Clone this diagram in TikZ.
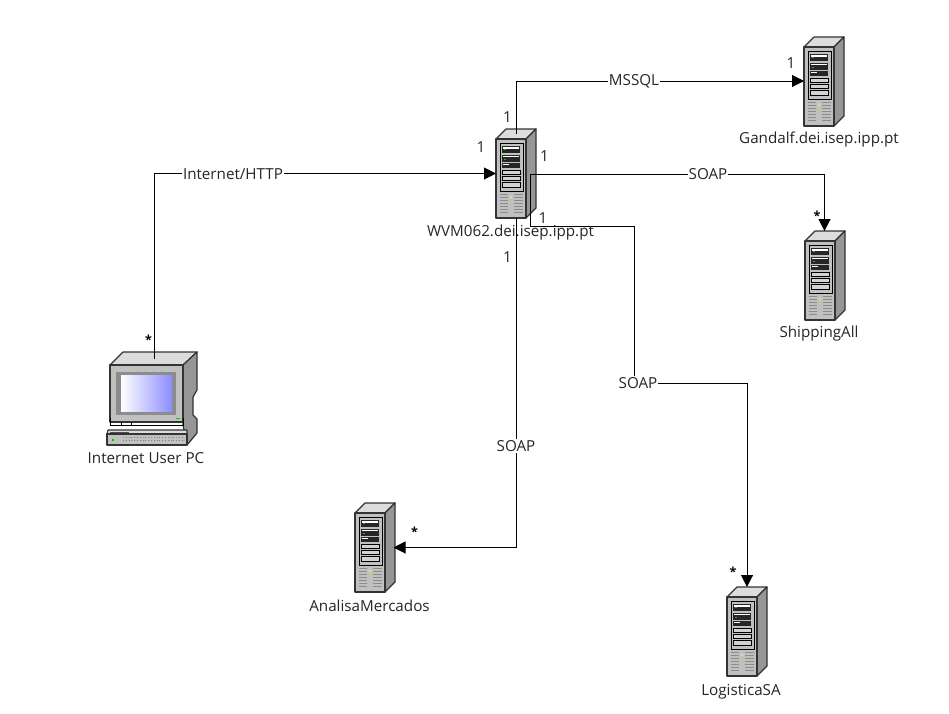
\documentclass[tikz,border=0pt]{standalone}
\usepackage{fontspec}
\setmainfont{Open Sans}
\usepackage{tikz}
\usetikzlibrary{arrows.meta,positioning}

\definecolor{caseface}{HTML}{C0C0C0}
\definecolor{casetop}{HTML}{DCDCDC}
\definecolor{caseside}{HTML}{969696}
\definecolor{bayface}{HTML}{D2D2D2}

\tikzset{
  hostbox/.style={minimum width=40pt,minimum height=89pt,inner sep=0pt,outer sep=0pt},
  pcbox/.style={minimum width=90pt,minimum height=93pt,inner sep=0pt,outer sep=0pt},
  hostlabel/.style={font=\fontsize{15.2pt}{18pt}\selectfont,inner sep=0pt,text=black!85},
  linklabel/.style={font=\fontsize{15.2pt}{18pt}\selectfont,inner sep=1pt,fill=white,text=black!85},
  endlabel/.style={font=\fontsize{15.2pt}{18pt}\selectfont,inner sep=0pt,text=black!85},
  starlabel/.style={font=\bfseries\fontsize{12.5pt}{14pt}\selectfont,inner sep=0pt,text=black},
  link/.style={draw=black,line width=1pt},
  pics/serverpic/.style={code={
    \filldraw[draw=black!80,line width=1.2pt,line join=round,fill=casetop] (0,10) -- (10,0) -- (40,0) -- (30,10) -- cycle;
    \filldraw[draw=black!80,line width=1.2pt,line join=round,fill=caseside] (30,10) -- (40,0) -- (40,79) -- (30,89) -- cycle;
    \filldraw[draw=black!80,line width=1.2pt,line join=round,fill=caseface] (0,10) -- (30,10) -- (30,89) -- (0,89) -- cycle;
    \draw[line width=0.8pt,fill=caseface] (4,14) rectangle (27,62);
    \fill[black!85] (6,17) rectangle (24,24);
    \fill[black!85] (6,26) rectangle (24,33);
    \fill[black!85] (6,34) rectangle (24,39);
    \fill[white] (7,18) rectangle (23,19.5);
    \fill[white] (7,27) rectangle (23,28);
    \fill[white] (7,35) rectangle (13,35.8);
    \fill[green!80!black] (8,20) rectangle (10,21);
    \fill[green!80!black] (8,30) rectangle (10,31);
    \draw[line width=0.6pt,fill=bayface] (6,41) rectangle (24,45);
    \draw[line width=0.6pt,fill=bayface] (6,47) rectangle (24,51);
    \draw[line width=0.6pt,fill=bayface] (6,53) rectangle (24,58);
    \foreach \gy in {65,68,...,84} {
      \draw[black!45,line width=0.7pt] (4,\gy) -- (12,\gy);
      \draw[black!45,line width=0.7pt] (18,\gy) -- (27,\gy);
    }
    \fill[white!85!black] (15,68) circle (1.3pt);
    \fill[yellow!85!black] (15,72) circle (1pt);
  }},
  pics/pcpic/.style={code={
    \filldraw[draw=black!80,line width=1.2pt,line join=round,fill=casetop] (3,13) -- (16,0) -- (90,0) -- (76,13) -- cycle;
    \filldraw[draw=black!80,line width=1.2pt,line join=round,fill=caseside] (76,13) -- (90,0) -- (90,38) -- (86,45) -- (86,63) -- (90,67) -- (90,81) -- (80,93) -- (76,73) -- cycle;
    \filldraw[draw=black!80,line width=1.2pt,line join=round,fill=caseface] (3,13) -- (76,13) -- (76,70) -- (3,70) -- cycle;
    \fill[black!45] (9,20) rectangle (69,63);
    \shade[shading angle=-45,left color=white,right color=blue!45] (14,23) rectangle (65,59);
    \fill[green!80!black] (69,65.5) rectangle (73,67);
    \draw[line width=0.8pt] (3,66) -- (3,73) -- (76,73) -- (76,66);
    \draw[line width=0.8pt] (14,70) -- (14,73);
    \draw[line width=0.8pt] (24,70) -- (24,73);
    \filldraw[draw=black!80,line width=1.2pt,line join=round,fill=casetop] (1,78) -- (80,78) -- (80,82) -- (0,82) -- cycle;
    \filldraw[draw=black!80,line width=1.2pt,line join=round,fill=caseface] (0,82) -- (80,82) -- (80,93) -- (0,93) -- cycle;
    \fill[black!70] (3,79.5) rectangle (22,81);
    \draw[black!50,line width=0.8pt,dotted] (16,85) -- (76,85);
    \draw[black!50,line width=0.8pt,dotted] (16,88) -- (76,88);
    \fill[green!80!black] (5,87) rectangle (7,89);
  }}
}

\begin{document}
\begin{tikzpicture}[x=1pt,y=-1pt,>={Triangle[length=12pt,width=12pt]}]

    \fill[white] (0,0) rectangle (949,713);
    \useasboundingbox (0,0) rectangle (949,713);

    \pic at (496,129) {serverpic};
    \pic at (804,37) {serverpic};
    \pic at (805,231) {serverpic};
    \pic at (727,587) {serverpic};
    \pic at (355,503) {serverpic};
    \pic at (107,352) {pcpic};

    \node[hostbox] (wvm) at (516,173.5) {};
    \node[hostbox] (gandalf) at (824,81) {};
    \node[hostbox] (shipping) at (824.5,275.5) {};
    \node[hostbox] (logistica) at (747,631.5) {};
    \node[hostbox] (analisa) at (373.5,547.5) {};
    \node[pcbox] (pc) at (152,398.5) {};

    \coordinate (wvmtop) at (516,134);
    \coordinate (wvmright) at (530,174);
    \coordinate (pctop) at (154.5,359);
    \coordinate (bendone) at (634,226);
    \coordinate (bendtwo) at (634,383);

    \draw[link,->] (pctop) |- (wvm.west);
    \draw[link,->] (wvmtop) |- (gandalf.west);
    \draw[link,->] (wvmright) -| (shipping.north);
    \draw[link,->] (wvmright) |- (bendone) -- (bendtwo) -| (logistica.north);
    \draw[link,->] (wvm.south) |- (analisa.east);

    \node[linklabel] (lblhttp) at (233,174) {Internet/HTTP};
    \node[linklabel] (lblmssql) at (634,81) {MSSQL};
    \node[linklabel] (lblship) at (708,174) {SOAP};
    \node[linklabel] (lbllog) at (638,383) {SOAP};
    \node[linklabel] (lblana) at (516,446) {SOAP};

    \node[hostlabel] (txtwvm) at (510.5,233) {WVM062.dei.isep.ipp.pt};
    \node[hostlabel] (txtgandalf) at (819,140) {Gandalf.dei.isep.ipp.pt};
    \node[hostlabel] (txtshipping) at (819,334) {ShippingAll};
    \node[hostlabel] (txtlogistica) at (741,692) {LogisticaSA};
    \node[hostlabel] (txtanalisa) at (369.5,606) {AnalisaMercados};
    \node[hostlabel] (txtpc) at (146,458) {Internet User PC};

    \node[endlabel] (numa) at (507.5,117) {1};
    \node[endlabel] (numb) at (481,147) {1};
    \node[endlabel] (numc) at (544.5,156) {1};
    \node[endlabel] (numd) at (543,218) {1};
    \node[endlabel] (nume) at (507.5,257) {1};
    \node[endlabel] (numf) at (791,63) {1};
    \node[starlabel] (stara) at (148.5,340) {*};
    \node[starlabel] (starb) at (817,216) {*};
    \node[starlabel] (starc) at (414.5,532) {*};
    \node[starlabel] (stard) at (733,572) {*};

\end{tikzpicture}
\end{document}
